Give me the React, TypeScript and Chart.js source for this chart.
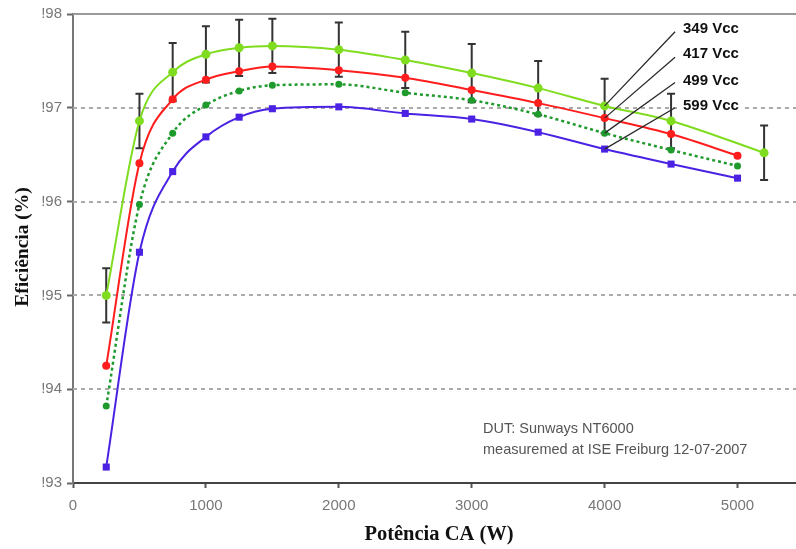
import React, { useEffect, useRef } from 'react';
import { Chart, registerables } from 'chart.js';

Chart.register(...registerables);

// ---- data ----
const seriesNames = ['349 Vcc', '417 Vcc', '499 Vcc', '599 Vcc'];
const powerW = [250, 500, 750, 1000, 1250, 1500, 2000, 2500, 3000, 3500, 4000, 4500, 5000];
const power349 = [250, 500, 750, 1000, 1250, 1500, 2000, 2500, 3000, 3500, 4000, 4500, 5200];
const eff349 = [95.0, 96.86, 97.38, 97.57, 97.64, 97.66, 97.62, 97.51, 97.37, 97.21, 97.02, 96.86, 96.52];
const err349 = [0.29, 0.29, 0.31, 0.3, 0.3, 0.29, 0.29, 0.3, 0.31, 0.29, 0.29, 0.29, 0.29];
const eff417 = [94.25, 96.41, 97.09, 97.3, 97.39, 97.44, 97.4, 97.32, 97.19, 97.05, 96.89, 96.72, 96.49];
const eff499 = [93.82, 95.97, 96.73, 97.03, 97.18, 97.24, 97.25, 97.16, 97.08, 96.93, 96.73, 96.55, 96.38];
const eff599 = [93.17, 95.46, 96.32, 96.69, 96.9, 96.99, 97.01, 96.94, 96.88, 96.74, 96.56, 96.4, 96.25];

const xTicks = [0, 1000, 2000, 3000, 4000, 5000];
const xTickLabels = ['0', '1000', '2000', '3000', '4000', '5000'];
const yTicks = [93, 94, 95, 96, 97, 98];
const yTickLabels = ['!93', '!94', '!95', '!96', '!97', '!98'];
const xMin = 0;
const xMax = 5440;

// callout labels (data coordinates)
const calloutAnchorPower = 4000;
const calloutTextX = 4590;
const calloutLineStartX = 4530;
const calloutTextY = [97.84, 97.57, 97.29, 97.02];
const calloutLineY = [97.81, 97.54, 97.27, 97.0];

const xTitle = 'Potência CA (W)';
const yTitle = 'Eficiência (%)';
const noteLines = ['DUT: Sunways NT6000', 'measuremed at ISE Freiburg 12-07-2007'];

const colors = ['#7fdc1f', '#ff1d1d', '#1f9a2c', '#4b22e3'];

const SANS = '"Liberation Sans", Arial, sans-serif';
const SERIF = '"Liberation Serif", "Times New Roman", serif';

export default function App() {
  const ref = useRef<HTMLCanvasElement | null>(null);

  useEffect(() => {
    document.body.style.margin = '0';
    const canvas = ref.current;
    if (!canvas) return;

    const toPts = (xs: number[], ys: number[]) => xs.map((x, i) => ({ x, y: ys[i] }));
    const seriesX = [power349, powerW, powerW, powerW];
    const seriesY = [eff349, eff417, eff499, eff599];

    const gridPlugin = {
      id: 'customGrid',
      beforeDatasetsDraw(chart: any) {
        const { ctx, chartArea, scales } = chart;
        const y = scales.y;
        ctx.save();
        yTicks.forEach((v) => {
          if (v === yTicks[0]) return;
          const py = Math.round(y.getPixelForValue(v));
          ctx.beginPath();
          if (v === yTicks[yTicks.length - 1]) {
            ctx.setLineDash([]);
            ctx.strokeStyle = '#9a9a9a';
          } else {
            ctx.setLineDash([4, 4]);
            ctx.strokeStyle = '#aaaaaa';
          }
          ctx.lineWidth = 2;
          ctx.moveTo(chartArea.left, py);
          ctx.lineTo(chartArea.right, py);
          ctx.stroke();
        });
        ctx.restore();
      },
    };

    const errorBarPlugin = {
      id: 'errorBars',
      beforeDatasetsDraw(chart: any) {
        const { ctx, scales } = chart;
        const xs = scales.x;
        const ys = scales.y;
        ctx.save();
        ctx.strokeStyle = '#333333';
        ctx.lineWidth = 2;
        ctx.setLineDash([]);
        power349.forEach((p, i) => {
          const px = xs.getPixelForValue(p);
          const top = ys.getPixelForValue(eff349[i] + err349[i]);
          const bot = ys.getPixelForValue(eff349[i] - err349[i]);
          ctx.beginPath();
          ctx.moveTo(px, top);
          ctx.lineTo(px, bot);
          ctx.moveTo(px - 4, top);
          ctx.lineTo(px + 4, top);
          ctx.moveTo(px - 4, bot);
          ctx.lineTo(px + 4, bot);
          ctx.stroke();
        });
        ctx.restore();
      },
    };

    const calloutPlugin = {
      id: 'callouts',
      afterDatasetsDraw(chart: any) {
        const { ctx, scales } = chart;
        const xs = scales.x;
        const ys = scales.y;
        ctx.save();
        ctx.font = `bold 15px ${SANS}`;
        ctx.textBaseline = 'middle';
        ctx.textAlign = 'left';
        seriesNames.forEach((name, k) => {
          const idx = seriesX[k].indexOf(calloutAnchorPower);
          const ax = xs.getPixelForValue(calloutAnchorPower);
          const ay = ys.getPixelForValue(seriesY[k][idx]);
          const sx = xs.getPixelForValue(calloutLineStartX);
          const sy = ys.getPixelForValue(calloutLineY[k]);
          ctx.beginPath();
          ctx.strokeStyle = '#2a2a2a';
          ctx.lineWidth = 1.3;
          ctx.moveTo(sx, sy);
          ctx.lineTo(ax, ay);
          ctx.stroke();
          const tx = xs.getPixelForValue(calloutTextX);
          const ty = ys.getPixelForValue(calloutTextY[k]);
          const w = ctx.measureText(name).width;
          ctx.fillStyle = '#ffffff';
          ctx.fillRect(tx - 3, ty - 9, w + 6, 18);
          ctx.fillStyle = '#111111';
          ctx.fillText(name, tx, ty);
        });
        ctx.restore();
      },
    };

    const textPlugin = {
      id: 'texts',
      afterDraw(chart: any) {
        const { ctx } = chart;
        ctx.save();
        ctx.fillStyle = '#111111';
        ctx.textAlign = 'center';
        ctx.textBaseline = 'middle';
        ctx.font = `bold 20.5px ${SERIF}`;
        ctx.fillText(xTitle, 439, 535);
        ctx.font = `bold 19.5px ${SERIF}`;
        ctx.translate(23, 247);
        ctx.rotate(-Math.PI / 2);
        ctx.fillText(yTitle, 0, 0);
        ctx.restore();

        ctx.save();
        ctx.fillStyle = '#555555';
        ctx.font = `14.5px ${SANS}`;
        ctx.textAlign = 'left';
        ctx.textBaseline = 'middle';
        ctx.fillText(noteLines[0], 483, 429);
        ctx.fillText(noteLines[1], 483, 450);
        ctx.restore();
      },
    };

    const chart = new Chart(canvas, {
      type: 'line',
      data: {
        datasets: seriesNames.map((name, k) => ({
          label: name,
          data: toPts(seriesX[k], seriesY[k]),
          borderColor: colors[k],
          backgroundColor: colors[k],
          borderWidth: k === 2 ? 2.5 : 2,
          borderDash: k === 2 ? [3, 3] : [],
          pointStyle: k === 3 ? 'rect' : 'circle',
          pointRadius: k === 0 ? 4.5 : k === 1 ? 4 : k === 2 ? 3.5 : 5,
          pointBorderWidth: 0,
          cubicInterpolationMode: 'monotone',
          fill: false,
        })),
      },
      options: {
        animation: false,
        responsive: false,
        maintainAspectRatio: false,
        layout: { autoPadding: false, padding: { top: 14, right: 0, left: 0, bottom: 0 } },
        plugins: {
          legend: { display: false },
          tooltip: { enabled: false },
        },
        scales: {
          x: {
            type: 'linear',
            min: xMin,
            max: xMax,
            afterBuildTicks: (s: any) => {
              s.ticks = xTicks.map((v) => ({ value: v }));
            },
            afterFit: (s: any) => {
              s.height = 66;
              s.paddingRight = 0;
              s.paddingLeft = 0;
            },
            ticks: {
              autoSkip: false,
              maxRotation: 0,
              color: '#777777',
              font: { family: SANS, size: 15 },
              padding: 9,
              callback: (v: any) => xTickLabels[xTicks.indexOf(Number(v))],
            },
            grid: {
              drawOnChartArea: false,
              drawTicks: true,
              tickLength: 5,
              tickColor: '#555555',
              tickWidth: 2,
            },
            border: { display: true, color: '#444444', width: 2 },
          },
          y: {
            type: 'linear',
            min: yTicks[0],
            max: yTicks[yTicks.length - 1],
            afterBuildTicks: (s: any) => {
              s.ticks = yTicks.map((v) => ({ value: v }));
            },
            afterFit: (s: any) => {
              s.width = 73;
            },
            ticks: {
              autoSkip: false,
              color: '#777777',
              font: { family: SANS, size: 15 },
              padding: 5,
              callback: (v: any) => yTickLabels[yTicks.indexOf(Number(v))],
            },
            grid: {
              drawOnChartArea: false,
              drawTicks: true,
              tickLength: 6,
              tickColor: '#666666',
              tickWidth: 2,
            },
            border: { display: true, color: '#777777', width: 2 },
          },
        },
      },
      plugins: [gridPlugin, errorBarPlugin, calloutPlugin, textPlugin],
    } as any);

    return () => chart.destroy();
  }, []);

  return <canvas ref={ref} width={796} height={549} style={{ display: 'block' }} />;
}
